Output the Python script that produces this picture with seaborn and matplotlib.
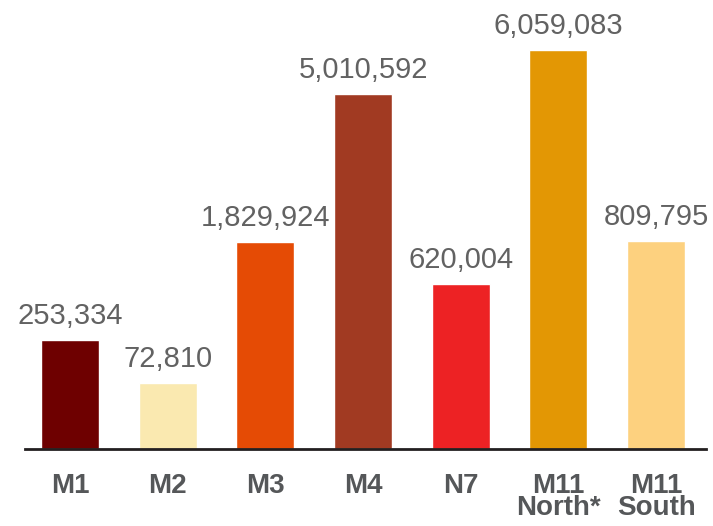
import matplotlib
matplotlib.use("Agg")
import matplotlib.pyplot as plt
import seaborn as sns
import pandas as pd

# Routes and their reported totals (bar heights are as drawn in the source, not to scale)
routes = ["M1", "M2", "M3", "M4", "N7", "M11\nNorth*", "M11\nSouth"]
totals = [253334, 72810, 1829924, 5010592, 620004, 6059083, 809795]
bar_heights = [109, 66, 207, 355, 165, 399, 208]
colors = ["#6e0000", "#fae9b0", "#e54b05", "#a13a22", "#ed2224", "#e39704", "#fdd17f"]

df = pd.DataFrame({"route": routes, "height": bar_heights})

sns.set_style("white")
plt.rcParams["font.family"] = ["Liberation Sans", "DejaVu Sans"]

fig = plt.figure(figsize=(7.13, 5.26), dpi=100)
ax = fig.add_axes([25 / 713, 77 / 526, 681 / 713, 449 / 526])

sns.barplot(data=df, x="route", y="height", hue="route", palette=colors,
            legend=False, width=0.594, saturation=1, ax=ax)

for cont, val in zip(ax.containers, totals):
    ax.bar_label(cont, labels=[f"{val:,}"], padding=7, fontsize=21, color="#626262")

ax.set_xlim(-0.46, 6.51)
ax.set_ylim(0, 449)
ax.set_xlabel("")
ax.set_ylabel("")
ax.set_yticks([])
for side in ["top", "right", "left"]:
    ax.spines[side].set_visible(False)
ax.spines["bottom"].set_color("#231f20")
ax.spines["bottom"].set_linewidth(2)
ax.tick_params(axis="x", length=0, pad=17)
for lbl in ax.get_xticklabels():
    lbl.set_fontsize(20)
    lbl.set_fontweight("bold")
    lbl.set_color("#555759")
    lbl.set_linespacing(0.8)

fig.savefig("out.png", dpi=100)
